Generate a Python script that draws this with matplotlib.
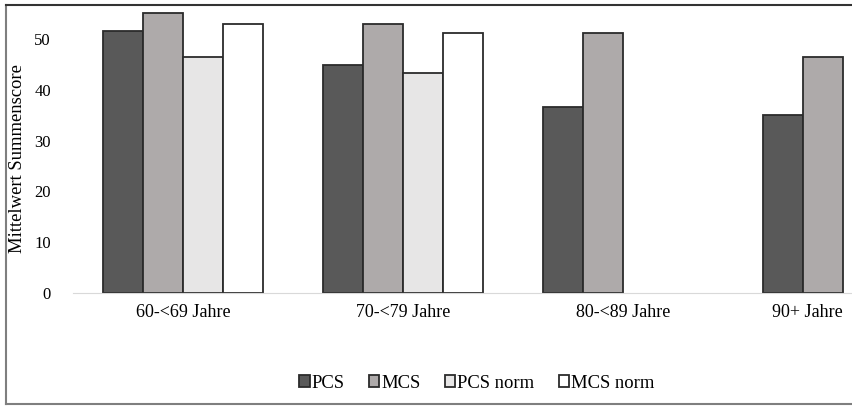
import matplotlib.pyplot as plt
from matplotlib.lines import Line2D
import numpy as np

# mean sum scores per age group
groups = ["60-<69 Jahre", "70-<79 Jahre", "80-<89 Jahre", "90+ Jahre"]
pcs = [51.6, 44.8, 36.6, 35.0]
mcs = [55.2, 52.9, 51.1, 46.5]
pcs_norm = [46.5, 43.4]
mcs_norm = [53.0, 51.1]

series = [
    ("PCS", pcs, "#595959"),
    ("MCS", mcs, "#aeaaaa"),
    ("PCS norm", pcs_norm, "#e7e6e6"),
    ("MCS norm", mcs_norm, "#ffffff"),
]

plt.rcParams["font.family"] = ["Liberation Serif", "DejaVu Serif"]

fig = plt.figure(figsize=(8.52, 4.08), dpi=100)
ax = fig.add_axes([73 / 852, 115 / 408, 880 / 852, 57 * 5.08 / 408])

width = 40 / 220
x = np.arange(len(groups))
for i, (name, vals, color) in enumerate(series):
    pos = x[:len(vals)] - 2 * width + (i + 0.5) * width
    ax.bar(pos, vals, width, color=color, edgecolor="#2b2b2b", linewidth=1.3, label=name)

ax.set_xlim(-0.5, 3.5)
ax.set_ylim(0, 57)
ax.set_yticks([0, 10, 20, 30, 40, 50])
ax.set_xticks(x)
ax.set_xticklabels(groups, fontsize=13)
# last label sits at the cropped right edge
ax.get_xticklabels()[-1].set_horizontalalignment("right")
ax.tick_params(axis="y", length=0, pad=16, labelsize=12)
ax.tick_params(axis="x", length=0, pad=8)
for s in ["top", "right", "left"]:
    ax.spines[s].set_visible(False)
ax.spines["bottom"].set_color("#d9d9d9")
ax.set_ylabel("Mittelwert Summenscore", fontsize=13.4)
ax.yaxis.set_label_coords((26 - 73) / 880, 0.463)

fig.legend(loc="center", bbox_to_anchor=(477 / 852, 1 - 383 / 408), ncol=4, frameon=False,
           fontsize=13.4, handlelength=0.55, handleheight=0.55, handletextpad=0.12,
           columnspacing=1.3)

# outer frame of the chart (left, top, bottom)
for xs, ys, c in [([6 / 852, 6 / 852], [4 / 408, 1 - 5 / 408], "#7f7f7f"),
                  ([6 / 852, 1], [1 - 5 / 408, 1 - 5 / 408], "#333333"),
                  ([6 / 852, 1], [4 / 408, 4 / 408], "#7f7f7f")]:
    fig.add_artist(Line2D(xs, ys, color=c, linewidth=1.5, transform=fig.transFigure))

fig.savefig("out.png", dpi=100)
